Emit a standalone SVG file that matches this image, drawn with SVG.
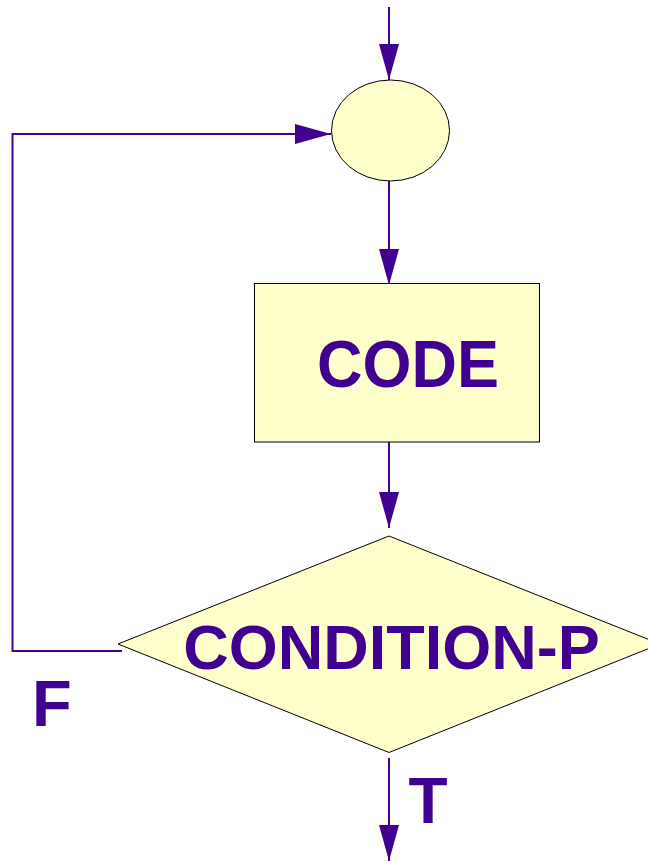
<svg xmlns="http://www.w3.org/2000/svg" width="648" height="861" viewBox="0 0 648 861">
  <defs>
    <style>
      .shape { fill: #FFFFCC; stroke: #000000; stroke-width: 1; }
      .conn { fill: none; stroke: #400090; stroke-width: 2; }
      .lbl { font-family: "Liberation Sans", Arial, sans-serif; font-weight: bold; fill: #400090; }
    </style>
    <marker id="arrow" markerUnits="userSpaceOnUse" markerWidth="36" markerHeight="20" viewBox="0 0 36 20" refX="36" refY="10" orient="auto">
      <path d="M0,0 L36,10 L0,20 Z" fill="#400090"/>
    </marker>
  </defs>

  <rect width="648" height="861" fill="#FFFFFF"/>

  <!-- connectors -->
  <g id="connectors">
    <line class="conn" x1="389" y1="7" x2="389" y2="80" marker-end="url(#arrow)"/>
    <polyline class="conn" points="122,651 12.5,651 12.5,134 331,134" marker-end="url(#arrow)"/>
    <line class="conn" x1="389" y1="176" x2="389" y2="285" marker-end="url(#arrow)"/>
    <line class="conn" x1="389" y1="434" x2="389" y2="528" marker-end="url(#arrow)"/>
    <line class="conn" x1="389" y1="758" x2="389" y2="861" marker-end="url(#arrow)"/>
  </g>

  <!-- junction -->
  <g id="junction">
    <ellipse class="shape" cx="390.5" cy="130.5" rx="59" ry="50.5"/>
  </g>

  <!-- process box -->
  <g id="code">
    <rect class="shape" x="254.5" y="283.5" width="285" height="158.5"/>
    <text class="lbl" x="408" y="387" font-size="66" text-anchor="middle" textLength="182" lengthAdjust="spacingAndGlyphs">CODE</text>
  </g>

  <!-- decision -->
  <g id="condition">
    <polygon class="shape" points="389,536 660,644 389,752.5 118,644"/>
    <text class="lbl" x="391.5" y="669" font-size="63" text-anchor="middle">CONDITION-P</text>
  </g>

  <!-- branch labels -->
  <g id="labels">
    <text class="lbl" x="32" y="726" font-size="65">F</text>
    <text class="lbl" x="428" y="823" font-size="64" text-anchor="middle">T</text>
  </g>
</svg>
